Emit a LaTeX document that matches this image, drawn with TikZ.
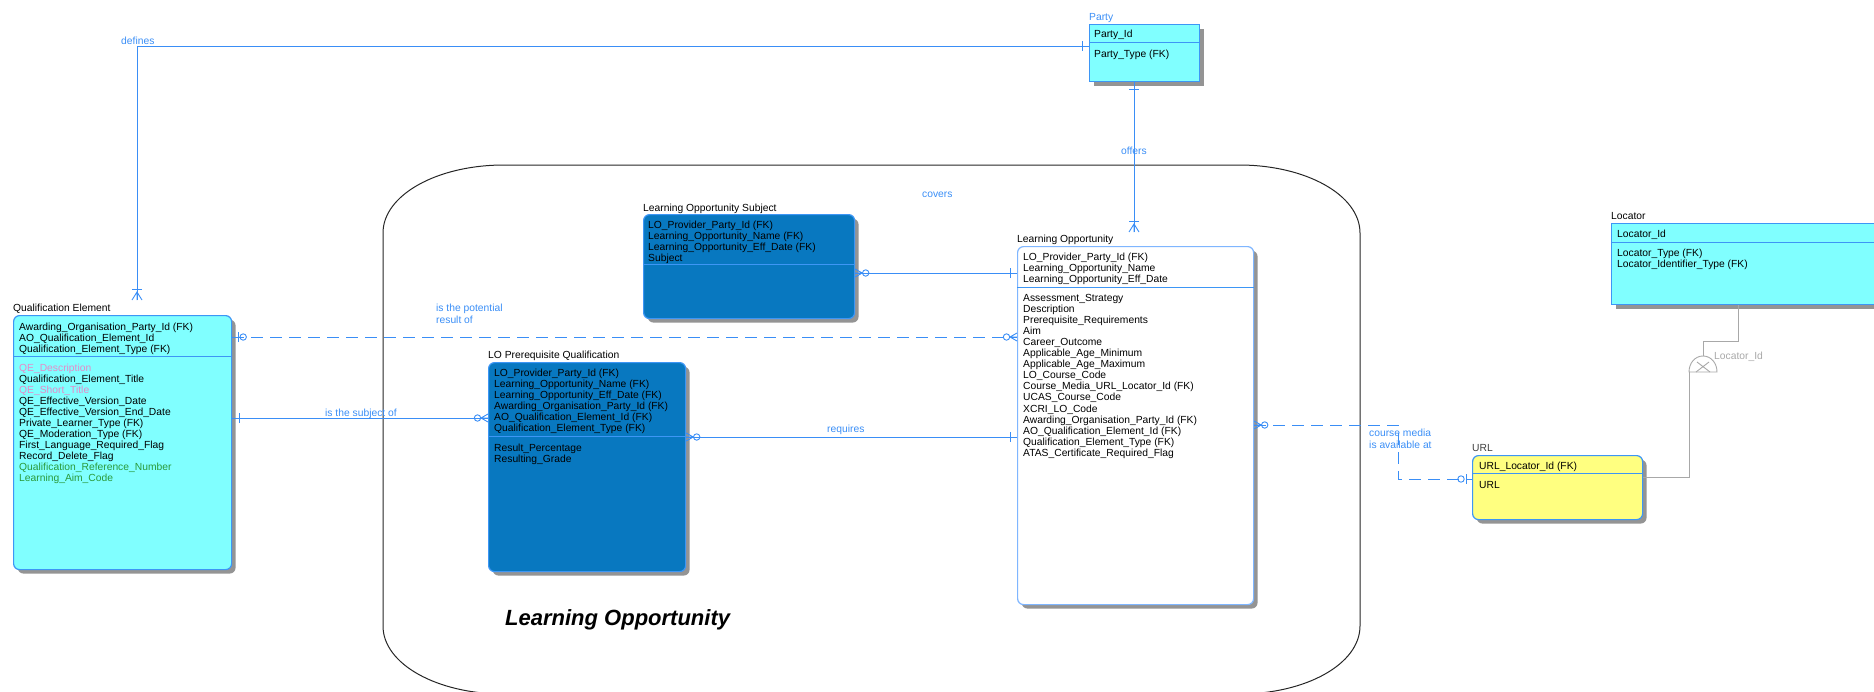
\documentclass[tikz,border=0pt]{standalone}
\usepackage{fontspec}
\setmainfont{Liberation Sans}
\usepackage{tikz}
\usetikzlibrary{shapes,arrows,shadows}

\definecolor{relblue}{HTML}{3A8EF6}
\definecolor{boxblue}{HTML}{3D96F5}
\definecolor{lightline}{HTML}{7FB6FF}
\definecolor{entcyan}{HTML}{80FFFF}
\definecolor{entdark}{HTML}{0878C0}
\definecolor{entyellow}{HTML}{FFFF80}
\definecolor{attpink}{HTML}{E68AC8}
\definecolor{attgreen}{HTML}{2A9A3A}
\definecolor{subgray}{HTML}{A8A8A8}

% relationship ends: #1 = end point on the box, #2 = direction of the line
\newcommand{\onemark}[2]{%
  \begin{scope}[shift={(#1)},rotate=#2]
    \draw[relblue,line width=1pt] (7pt,-5pt) -- (7pt,5pt);
  \end{scope}}
\newcommand{\manyring}[2]{%
  \begin{scope}[shift={(#1)},rotate=#2]
    \draw[relblue,line width=0.9pt] (0pt,-4pt) -- (7pt,0pt) -- (0pt,4pt) (0pt,0pt) -- (7pt,0pt);
    \draw[relblue,line width=0.9pt] (10.5pt,0pt) circle (3.2pt);
  \end{scope}}
\newcommand{\ringone}[2]{%
  \begin{scope}[shift={(#1)},rotate=#2]
    \draw[relblue,line width=1pt] (6pt,-5pt) -- (6pt,5pt);
    \draw[relblue,line width=0.9pt] (11pt,0pt) circle (3.2pt);
  \end{scope}}
\newcommand{\manyone}[2]{%
  \begin{scope}[shift={(#1)},rotate=#2]
    \draw[relblue,line width=0.9pt] (0pt,-5pt) -- (8pt,0pt) -- (0pt,5pt) (0pt,0pt) -- (8pt,0pt);
    \draw[relblue,line width=1pt] (11pt,-5pt) -- (11pt,5pt);
  \end{scope}}

\begin{document}
\begin{tikzpicture}[x=1pt,y=-1pt,
  every node/.style={font=\fontsize{10.3}{12}\selectfont, inner sep=0pt},
  entity/.style={draw=boxblue, line width=1.2pt, anchor=north west, rounded corners=6pt,
    drop shadow={shadow xshift=4pt, shadow yshift=-4pt, fill=black!42, opacity=1}},
  flatentity/.style={entity, sharp corners},
  title/.style={anchor=base west},
  attr/.style={anchor=base west},
  rel/.style={relblue, line width=1pt},
  optrel/.style={rel, dash pattern=on 12pt off 7pt},
  rellabel/.style={relblue, anchor=base west},
  subline/.style={subgray, line width=0.9pt}]

\useasboundingbox (0,0) rectangle (1874,691);

% subject area
\draw[black!85, line width=1pt]
  (504,165) -- (1239,165) .. controls (1306,165) and (1360,195) .. (1360,233)
  -- (1360,626) .. controls (1360,664) and (1306,694) .. (1239,694)
  -- (504,694) .. controls (437,694) and (383,664) .. (383,626)
  -- (383,233) .. controls (383,195) and (437,165) .. (504,165) -- cycle;
\node[anchor=base west, font=\fontsize{22}{25}\selectfont\bfseries\itshape] (area) at (505,625) {Learning Opportunity};

% entities
\node[flatentity, fill=entcyan, minimum width=110pt, minimum height=57pt] (party) at (1089,24) {};
\node[entity, fill=entcyan, minimum width=218pt, minimum height=254pt] (qe) at (13,315) {};
\node[entity, fill=entdark, minimum width=211pt, minimum height=104pt] (los) at (643,214) {};
\node[entity, draw=lightline, fill=white, minimum width=236pt, minimum height=358pt] (lo) at (1017,246) {};
\node[entity, fill=entdark, minimum width=197pt, minimum height=209pt] (lopq) at (488,362) {};
\node[entity, fill=entyellow, minimum width=170pt, minimum height=64pt] (url) at (1472,455) {};
\node[flatentity, fill=entcyan, minimum width=290pt, minimum height=81pt] (loc) at (1611,223) {};

\foreach \ent/\y in {party/42, qe/356, los/264, lo/287, lopq/436, url/473, loc/242}
  \draw[boxblue, line width=1pt] (\ent.west |- 0,\y) -- (\ent.east |- 0,\y);

% relationships
\coordinate (qe-top) at (137,300);
\draw[rel] (party.west |- 0,46) -| (qe-top);
\onemark{party.west |- 0,46}{180}
\manyone{qe-top}{90}
\node[rellabel] (l-def) at (121,44) {defines};

\coordinate (lo-top) at (1134,232);
\draw[rel] (party.south -| lo-top) -- (lo-top);
\onemark{party.south -| lo-top}{-90}
\manyone{lo-top}{90}
\node[rellabel] (l-off) at (1121,154) {offers};

\draw[rel] (los.east |- 0,273) -- (lo.west |- 0,273);
\manyring{los.east |- 0,273}{0}
\onemark{lo.west |- 0,273}{180}
\node[rellabel] (l-cov) at (922,197) {covers};

\draw[optrel] (qe.east |- 0,337) -- (lo.west |- 0,337);
\ringone{qe.east |- 0,337}{0}
\manyring{lo.west |- 0,337}{180}
\node[rellabel, anchor=north west, align=left] (l-pot) at (436,304) {is the potential\\result of};

\draw[rel] (qe.east |- 0,418) -- (lopq.west |- 0,418);
\onemark{qe.east |- 0,418}{0}
\manyring{lopq.west |- 0,418}{180}
\node[rellabel] (l-sub) at (325,416) {is the subject of};

\draw[rel] (lopq.east |- 0,437) -- (lo.west |- 0,437);
\manyring{lopq.east |- 0,437}{0}
\onemark{lo.west |- 0,437}{180}
\node[rellabel] (l-req) at (827,432) {requires};

\draw[optrel] (lo.east |- 0,425) -| (1398,479) -- (url.west |- 0,479);
\manyring{lo.east |- 0,425}{0}
\ringone{url.west |- 0,479}{180}
\node[rellabel, anchor=north west, align=left] (l-med) at (1369,429) {course media\\is available at};

% subtype
\draw[subline] (loc.south -| 1738,0) -- (1738,341) -- (1703,341) -- (1703,356);
\draw[subline] (1689,372) .. controls (1689,363) and (1695,356) .. (1703,356)
  .. controls (1711,356) and (1717,363) .. (1717,372) -- cycle;
\draw[subline] (1697,362) -- (1710,372) (1709,362) -- (1696,372);
\draw[subline] (1689,372) -- (1689,477) -- (url.east |- 0,477);
\node[anchor=base west, subgray] (l-loc) at (1714,359) {Locator\_Id};

% Party
\node[title, relblue] (t-party) at (1089,20) {Party};
\node[attr] at (1094,37) {Party\_Id};
\node[attr] at (1094,57) {Party\_Type (FK)};

% Qualification Element
\node[title] (t-qe) at (13,311) {Qualification Element};
\foreach \t [count=\i from 0] in {Awarding\_Organisation\_Party\_Id (FK), AO\_Qualification\_Element\_Id,
    Qualification\_Element\_Type (FK)}
  \node[attr] at (19,330+11*\i) {\t};
\foreach \t [count=\i from 0] in {{\color{attpink}QE\_Description}, Qualification\_Element\_Title,
    {\color{attpink}QE\_Short\_Title}, QE\_Effective\_Version\_Date, QE\_Effective\_Version\_End\_Date,
    Private\_Learner\_Type (FK), QE\_Moderation\_Type (FK), First\_Language\_Required\_Flag,
    Record\_Delete\_Flag, {\color{attgreen}Qualification\_Reference\_Number},
    {\color{attgreen}Learning\_Aim\_Code}}
  \node[attr] at (19,371+11*\i) {\t};

% Learning Opportunity Subject
\node[title] (t-los) at (643,211) {Learning Opportunity Subject};
\foreach \t [count=\i from 0] in {LO\_Provider\_Party\_Id (FK), Learning\_Opportunity\_Name (FK),
    Learning\_Opportunity\_Eff\_Date (FK), Subject}
  \node[attr] at (648,228+11*\i) {\t};

% Learning Opportunity
\node[title] (t-lo) at (1017,242) {Learning Opportunity};
\foreach \t [count=\i from 0] in {LO\_Provider\_Party\_Id (FK), Learning\_Opportunity\_Name,
    Learning\_Opportunity\_Eff\_Date}
  \node[attr] at (1023,260+11*\i) {\t};
\foreach \t [count=\i from 0] in {Assessment\_Strategy, Description, Prerequisite\_Requirements, Aim,
    Career\_Outcome, Applicable\_Age\_Minimum, Applicable\_Age\_Maximum, LO\_Course\_Code,
    Course\_Media\_URL\_Locator\_Id (FK), UCAS\_Course\_Code, XCRI\_LO\_Code,
    Awarding\_Organisation\_Party\_Id (FK), AO\_Qualification\_Element\_Id (FK),
    Qualification\_Element\_Type (FK), ATAS\_Certificate\_Required\_Flag}
  \node[attr] at (1023,301+11.1*\i) {\t};

% LO Prerequisite Qualification
\node[title] (t-lopq) at (488,358) {LO Prerequisite Qualification};
\foreach \t [count=\i from 0] in {LO\_Provider\_Party\_Id (FK), Learning\_Opportunity\_Name (FK),
    Learning\_Opportunity\_Eff\_Date (FK), Awarding\_Organisation\_Party\_Id (FK),
    AO\_Qualification\_Element\_Id (FK), Qualification\_Element\_Type (FK)}
  \node[attr] at (494,376+11*\i) {\t};
\foreach \t [count=\i from 0] in {Result\_Percentage, Resulting\_Grade}
  \node[attr] at (494,451+11*\i) {\t};

% URL
\node[title, black!75] (t-url) at (1472,451) {URL};
\node[attr] at (1479,469) {URL\_Locator\_Id (FK)};
\node[attr] at (1479,488) {URL};

% Locator
\node[title] (t-loc) at (1611,219) {Locator};
\node[attr] at (1617,237) {Locator\_Id};
\node[attr] at (1617,256) {Locator\_Type (FK)};
\node[attr] at (1617,267) {Locator\_Identifier\_Type (FK)};

\end{tikzpicture}
\end{document}
